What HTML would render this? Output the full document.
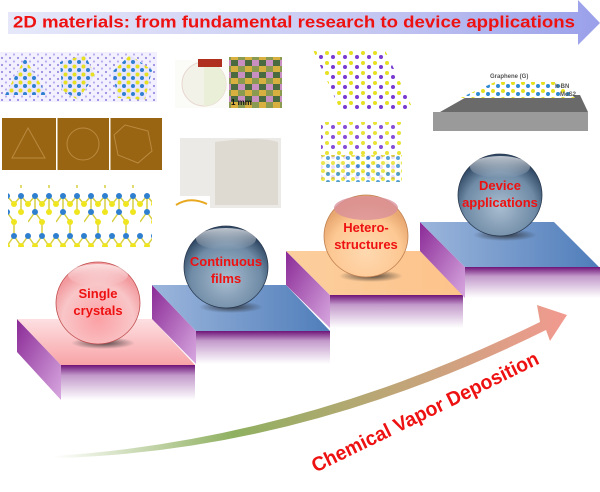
<!DOCTYPE html>
<html><head><meta charset="utf-8"><style>
html,body{margin:0;padding:0;background:#fff;}
svg{display:block;}
text{font-family:"Liberation Sans",Arial,sans-serif;font-weight:bold;}
</style></head><body>
<svg width="600" height="492" viewBox="0 0 600 492" xmlns="http://www.w3.org/2000/svg">
<defs>
<linearGradient id="tg" x1="0" x2="1"><stop offset="0" stop-color="#e6e8fa"/><stop offset="0.6" stop-color="#c6c8f2"/><stop offset="1" stop-color="#9aa0ea"/></linearGradient>
<linearGradient id="front" x1="0" y1="0" x2="0" y2="1"><stop offset="0" stop-color="#6e1478"/><stop offset="0.3" stop-color="#c39acb"/><stop offset="1" stop-color="#ffffff"/></linearGradient>
<linearGradient id="side" x1="0" y1="0" x2="1" y2="1"><stop offset="0" stop-color="#8a2a96"/><stop offset="1" stop-color="#d8a8e0"/></linearGradient>
<linearGradient id="pink" x1="0" y1="0" x2="0" y2="1"><stop offset="0" stop-color="#fde0e2"/><stop offset="1" stop-color="#f8a3a6"/></linearGradient>
<linearGradient id="blue" x1="0" y1="0" x2="1" y2="0"><stop offset="0" stop-color="#9cb6dc"/><stop offset="1" stop-color="#4f7dba"/></linearGradient>
<linearGradient id="orange" x1="0" y1="0" x2="1" y2="0"><stop offset="0" stop-color="#fccf9e"/><stop offset="1" stop-color="#fdc28a"/></linearGradient>
<radialGradient id="sp1" cx="0.5" cy="0.7" r="0.6"><stop offset="0" stop-color="#fba1a5"/><stop offset="0.7" stop-color="#f9c6c8"/><stop offset="1" stop-color="#f29a9e"/></radialGradient>
<radialGradient id="sp2" cx="0.5" cy="0.65" r="0.6"><stop offset="0" stop-color="#a9bdd0"/><stop offset="0.7" stop-color="#6f8ba6"/><stop offset="1" stop-color="#2f4763"/></radialGradient>
<radialGradient id="sp3" cx="0.5" cy="0.7" r="0.6"><stop offset="0" stop-color="#ffd9b0"/><stop offset="0.7" stop-color="#fdc893"/><stop offset="1" stop-color="#e8a770"/></radialGradient>
<linearGradient id="hl" x1="0" y1="0" x2="0" y2="1"><stop offset="0" stop-color="#fff" stop-opacity="0.7"/><stop offset="1" stop-color="#fff" stop-opacity="0"/></linearGradient>
<radialGradient id="sh"><stop offset="0" stop-color="#222" stop-opacity="0.8"/><stop offset="1" stop-color="#222" stop-opacity="0"/></radialGradient>
<linearGradient id="cvd" x1="0" y1="0" x2="1" y2="0"><stop offset="0" stop-color="#ffffff"/><stop offset="0.35" stop-color="#8fb060"/><stop offset="1" stop-color="#f29a90"/></linearGradient>
<pattern id="lat" width="8" height="7" patternUnits="userSpaceOnUse"><rect width="8" height="7" fill="#f3f1ff"/><circle cx="2" cy="2" r="1.1" fill="#9a8ee0"/><circle cx="6" cy="5.5" r="1.1" fill="#b7aef0"/></pattern>
<pattern id="mol" width="9" height="8" patternUnits="userSpaceOnUse"><rect width="9" height="8" fill="#e8e6ff"/><circle cx="2.5" cy="2.5" r="2" fill="#e6e020"/><circle cx="7" cy="6" r="2" fill="#2e7fd0"/></pattern>
<pattern id="mol2" width="12" height="10" patternUnits="userSpaceOnUse"><rect width="12" height="10" fill="#fff"/><circle cx="3" cy="3" r="2" fill="#e6e020"/><circle cx="9" cy="7" r="2" fill="#7a3ad0"/></pattern>
<pattern id="mol3" width="10" height="8" patternUnits="userSpaceOnUse"><rect width="10" height="8" fill="#fff"/><circle cx="3" cy="3" r="2" fill="#e6e020"/><circle cx="8" cy="6" r="2" fill="#2e8ad0"/></pattern>
<pattern id="chain" width="28" height="64" patternUnits="userSpaceOnUse">
<path d="M0,12 L7,4 L14,12 L21,4 L28,12 M7,4 L7,20 M21,4 L21,20 M7,20 L0,30 M7,20 L14,30 L14,44 L7,54 L0,44 M14,44 L21,54 L28,44 M21,54 L21,60" stroke="#d8cf40" stroke-width="1.5" fill="none"/>
<circle cx="0" cy="12" r="3" fill="#f0e620"/><circle cx="7" cy="4" r="3" fill="#2e7fd0"/><circle cx="14" cy="12" r="3" fill="#f0e620"/><circle cx="21" cy="4" r="3" fill="#2e7fd0"/><circle cx="28" cy="12" r="3" fill="#f0e620"/>
<circle cx="7" cy="20" r="3" fill="#2e7fd0"/><circle cx="21" cy="20" r="3" fill="#f0e620"/><circle cx="14" cy="30" r="3" fill="#f0e620"/>
<circle cx="14" cy="44" r="3" fill="#2e7fd0"/><circle cx="7" cy="54" r="3" fill="#f0e620"/><circle cx="0" cy="44" r="3" fill="#2e7fd0"/><circle cx="21" cy="54" r="3" fill="#f0e620"/><circle cx="28" cy="44" r="3" fill="#2e7fd0"/>
</pattern>
<pattern id="cmap" width="14" height="12" patternUnits="userSpaceOnUse"><rect width="14" height="12" fill="#8a9a50"/><rect width="7" height="6" fill="#c98fc0"/><rect x="7" y="6" width="7" height="6" fill="#d8b040"/><rect x="7" width="7" height="6" fill="#4a6a40"/></pattern>
</defs>

<!-- title arrow -->
<polygon points="8,12 578,12 578,0 600,23 578,45 578,34 8,34" fill="url(#tg)"/>
<text x="13" y="27.5" font-size="16.5" fill="#ee1111" textLength="562" lengthAdjust="spacingAndGlyphs">2D materials: from fundamental research to device applications</text>

<!-- images -->
<rect x="0" y="52" width="157" height="50" fill="url(#lat)"/>
<polygon points="5,95 25,58 47,95" fill="url(#mol)"/>
<polygon points="60,62 85,55 95,75 78,100 62,90" fill="url(#mol)"/>
<polygon points="112,72 130,55 152,70 145,100 118,98" fill="url(#mol)"/>
<rect x="2" y="118" width="160" height="52" fill="#9a6512"/>
<rect x="56" y="118" width="1.5" height="52" fill="#fff"/><rect x="109" y="118" width="1.5" height="52" fill="#fff"/>
<polygon points="28,128 45,158 12,158" fill="none" stroke="#b98a40"/>
<circle cx="83" cy="144" r="16" fill="none" stroke="#b98a40"/>
<polygon points="125,125 148,131 152,151 138,163 118,155 114,135" fill="none" stroke="#b98a40"/>
<rect x="8" y="185" width="144" height="62" fill="url(#chain)"/>
<rect x="175" y="60" width="54" height="48" fill="#fbfbf8"/>
<circle cx="204" cy="84" r="22" fill="#f2f2e8" stroke="#e8d8d0"/>
<path d="M204,62 A22,22 0 0 1 204,106 Z" fill="#eaefd8"/>
<rect x="198" y="59" width="24" height="8" fill="#b03020"/>
<rect x="229" y="57" width="53" height="51" fill="url(#cmap)"/>
<text x="231" y="105" font-size="8" fill="#111">1 mm</text>
<rect x="180" y="138" width="101" height="70" fill="#eceae6"/>
<path d="M215,142 Q260,136 278,142 L278,205 L215,205 Z" fill="#dedad2"/>
<rect x="169" y="196" width="41" height="12" fill="#fff"/><path d="M176,205 Q190,196 207,204" stroke="#e8a820" stroke-width="2" fill="none"/>
<polygon points="313,50 385,50 413,109 340,109" fill="url(#mol2)"/>
<polygon points="321,122 402,122 402,182 321,182" fill="url(#mol2)" opacity="0.9"/>
<rect x="321" y="155" width="81" height="27" fill="url(#mol3)" opacity="0.8"/>
<rect x="433" y="112" width="155" height="19" fill="#9a9a9a"/>
<polygon points="440,112 470,95 580,95 588,112" fill="#6a6a6a"/>
<polygon points="460,98 495,82 560,82 575,98" fill="url(#mol3)"/>
<text x="490" y="78" font-size="6" fill="#555" font-weight="normal">Graphene (G)</text>
<text x="555" y="88" font-size="6" fill="#555" font-weight="normal">h-BN</text>
<text x="560" y="96" font-size="6" fill="#555" font-weight="normal">MoS2</text>

<!-- steps -->
<polygon points="17,319 61,365 61,400 17,352" fill="url(#side)"/>
<rect x="61" y="365" width="134" height="35" fill="url(#front)"/>
<polygon points="17,319 152,319 195,365 61,365" fill="url(#pink)"/>

<polygon points="152,285 196,331 196,364 152,319" fill="url(#side)"/>
<rect x="196" y="331" width="134" height="33" fill="url(#front)"/>
<polygon points="152,285 286,285 330,331 196,331" fill="url(#blue)"/>

<polygon points="286,251 330,295 330,328 286,285" fill="url(#side)"/>
<rect x="330" y="295" width="133" height="33" fill="url(#front)"/>
<polygon points="286,251 420,251 463,295 330,295" fill="url(#orange)"/>

<polygon points="420,222 465,267 465,298 420,251" fill="url(#side)"/>
<rect x="465" y="267" width="135" height="31" fill="url(#front)"/>
<polygon points="420,222 554,222 599,267 465,267" fill="url(#blue)"/>

<!-- spheres -->
<ellipse cx="103" cy="343" rx="32" ry="6" fill="url(#sh)"/>
<ellipse cx="98" cy="303" rx="42" ry="41" fill="url(#sp1)" stroke="#c05050" stroke-width="0.8"/>
<ellipse cx="98" cy="275" rx="30" ry="11" fill="url(#hl)"/>
<text x="98" y="298" font-size="13" fill="#ee1111" text-anchor="middle">Single</text>
<text x="98" y="315" font-size="13" fill="#ee1111" text-anchor="middle">crystals</text>

<ellipse cx="231" cy="307" rx="32" ry="6" fill="url(#sh)"/>
<ellipse cx="226" cy="267" rx="42" ry="41" fill="url(#sp2)" stroke="#2a3a50" stroke-width="0.8"/>
<ellipse cx="226" cy="239" rx="30" ry="11" fill="url(#hl)"/>
<text x="226" y="266" font-size="13" fill="#ee1111" text-anchor="middle">Continuous</text>
<text x="226" y="283" font-size="13" fill="#ee1111" text-anchor="middle">films</text>

<ellipse cx="371" cy="276" rx="32" ry="6" fill="url(#sh)"/>
<ellipse cx="366" cy="236" rx="42" ry="41" fill="url(#sp3)" stroke="#c08050" stroke-width="0.8"/>
<ellipse cx="366" cy="208" rx="32" ry="12" fill="#d9909a" opacity="0.8"/>
<text x="366" y="232" font-size="13" fill="#ee1111" text-anchor="middle">Hetero-</text>
<text x="366" y="249" font-size="13" fill="#ee1111" text-anchor="middle">structures</text>

<ellipse cx="505" cy="235" rx="32" ry="6" fill="url(#sh)"/>
<ellipse cx="500" cy="195" rx="42" ry="41" fill="url(#sp2)" stroke="#2a3a50" stroke-width="0.8"/>
<ellipse cx="500" cy="167" rx="30" ry="11" fill="url(#hl)"/>
<text x="500" y="190" font-size="13" fill="#ee1111" text-anchor="middle">Device</text>
<text x="500" y="207" font-size="13" fill="#ee1111" text-anchor="middle">applications</text>

<!-- CVD arrow -->
<path d="M54,456 Q300,440 540,322 L537,305 L567,315 L550,341 L546,330 Q300,452 54,458 Z" fill="url(#cvd)"/>
<text x="0" y="0" font-size="20" fill="#ee1111" text-anchor="middle" transform="translate(428,418) rotate(-26)" textLength="250" lengthAdjust="spacingAndGlyphs">Chemical Vapor Deposition</text>
</svg>
</body></html>
